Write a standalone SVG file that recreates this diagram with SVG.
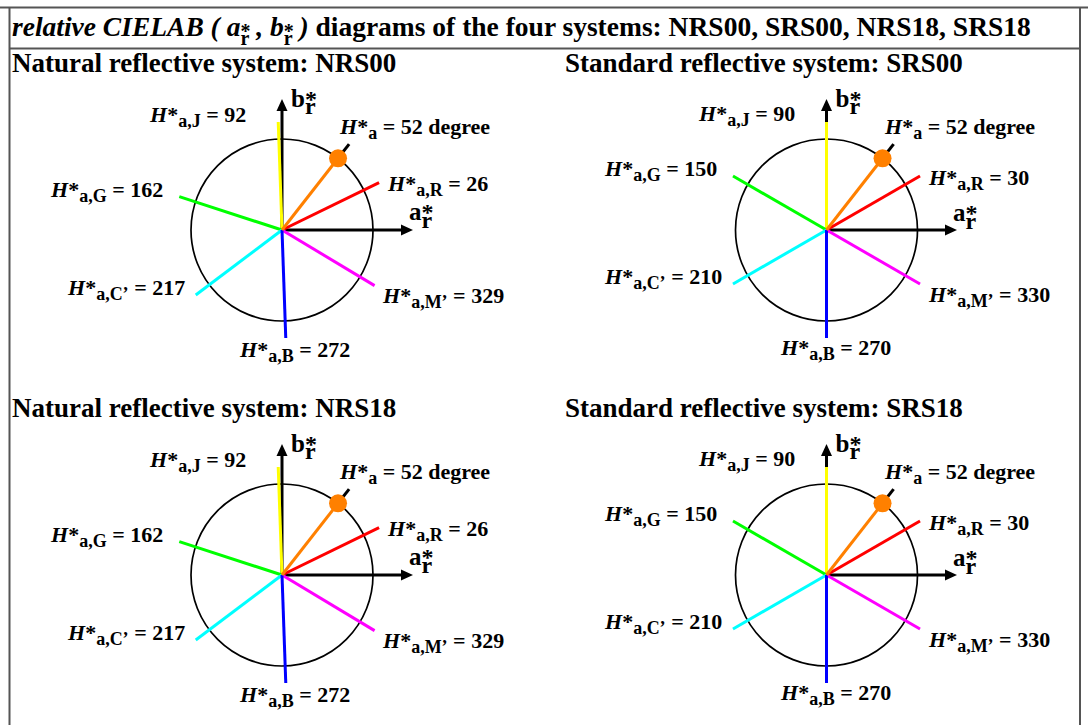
<svg xmlns="http://www.w3.org/2000/svg" width="1088" height="725" viewBox="0 0 1088 725">
<defs>
<style>
.t{font-family:"Liberation Serif","Times New Roman",serif;font-weight:bold;fill:#000}
.ttl{font-size:27.5px}
.sub{font-size:27px}
.lab{font-size:22px}
.s{font-size:18px}
.ax{font-size:25px}
.axs{font-size:24px}
.ts{font-size:20px}
.i{font-style:italic}
.frame{stroke:#555;stroke-width:2;fill:none}
.circ{fill:none;stroke:#000;stroke-width:1.7}
.axis{stroke:#000;stroke-width:3}
.h{stroke-width:3;fill:none}
</style>
</defs>
<rect width="1088" height="725" fill="#fff"/>
<g id="frame">
<line class="frame" x1="0" y1="7.5" x2="1088" y2="7.5"/>
<line class="frame" x1="9.5" y1="7.5" x2="9.5" y2="725"/>
<line class="frame" x1="1080" y1="7.5" x2="1080" y2="725"/>
<line class="frame" x1="9.5" y1="48.5" x2="1080" y2="48.5" stroke-width="1.5"/>
</g>
<g id="title">
<text class="t ttl" x="12" y="36"><tspan class="i">relative CIELAB ( a</tspan><tspan class="ts" dy="2">*</tspan><tspan class="ts" dx="-10" dy="7">r</tspan><tspan class="i" dy="-9"> , b</tspan><tspan class="ts" dy="2">*</tspan><tspan class="ts" dx="-10" dy="7">r</tspan><tspan class="i" dy="-9"> )</tspan> diagrams of the four systems: NRS00, SRS00, NRS18, SRS18</text>
</g>

<!-- NRS00 -->
<g id="nrs00">
<text class="t sub" x="12" y="72">Natural reflective system: NRS00</text>
<circle class="circ" cx="282" cy="230" r="91"/>
<line class="axis" x1="282" y1="230" x2="282" y2="110"/>
<polygon points="282,99 276.5,111 287.5,111" fill="#000"/>
<line class="axis" x1="282" y1="230" x2="401" y2="230"/>
<polygon points="413,230 401,224.5 401,235.5" fill="#000"/>
<line class="h" stroke="#ffff00" x1="282" y1="230" x2="278.23" y2="122.06"/>
<line class="h" stroke="#00ff00" x1="282" y1="230" x2="179.28" y2="196.63"/>
<line class="h" stroke="#ff0000" x1="282" y1="230" x2="379.07" y2="182.65"/>
<line class="h" stroke="#00ffff" x1="282" y1="230" x2="195.75" y2="295"/>
<line class="h" stroke="#ff00ff" x1="282" y1="230" x2="374.57" y2="285.62"/>
<line class="h" stroke="#0000ff" x1="282" y1="230" x2="285.77" y2="337.94"/>
<line class="h" stroke="#000" x1="338.03" y1="158.29" x2="349.11" y2="144.11"/>
<line class="h" stroke="#ff8000" x1="282" y1="230" x2="338.03" y2="158.29"/>
<circle cx="338.03" cy="158.29" r="9" fill="#ff8000"/>
<text class="t ax" x="291" y="107">b<tspan class="axs">*</tspan><tspan class="axs" dx="-12" dy="7">r</tspan></text>
<text class="t ax" x="409" y="220">a<tspan class="axs">*</tspan><tspan class="axs" dx="-12" dy="8">r</tspan></text>
<text class="t lab" x="150" y="122"><tspan class="i">H</tspan>*<tspan class="s" dy="5">a,J</tspan><tspan dy="-5"> = 92</tspan></text>
<text class="t lab" x="340" y="134"><tspan class="i">H</tspan>*<tspan class="s" dy="5">a</tspan><tspan dy="-5"> = 52 degree</tspan></text>
<text class="t lab" x="388" y="191"><tspan class="i">H</tspan>*<tspan class="s" dy="5">a,R</tspan><tspan dy="-5"> = 26</tspan></text>
<text class="t lab" x="51" y="197"><tspan class="i">H</tspan>*<tspan class="s" dy="5">a,G</tspan><tspan dy="-5"> = 162</tspan></text>
<text class="t lab" x="68" y="295"><tspan class="i">H</tspan>*<tspan class="s" dy="5">a,C’</tspan><tspan dy="-5"> = 217</tspan></text>
<text class="t lab" x="383" y="303"><tspan class="i">H</tspan>*<tspan class="s" dy="5">a,M’</tspan><tspan dy="-5"> = 329</tspan></text>
<text class="t lab" x="240" y="357"><tspan class="i">H</tspan>*<tspan class="s" dy="5">a,B</tspan><tspan dy="-5"> = 272</tspan></text>
</g>

<!-- SRS00 -->
<g id="srs00">
<text class="t sub" x="565" y="72">Standard reflective system: SRS00</text>
<circle class="circ" cx="826.5" cy="230" r="91"/>
<line class="axis" x1="826.5" y1="230" x2="826.5" y2="110"/>
<polygon points="826.5,99 821,111 832,111" fill="#000"/>
<line class="axis" x1="826.5" y1="230" x2="945" y2="230"/>
<polygon points="957,230 945,224.5 945,235.5" fill="#000"/>
<line class="h" stroke="#ffff00" x1="826.5" y1="230" x2="826.5" y2="122"/>
<line class="h" stroke="#00ff00" x1="826.5" y1="230" x2="732.97" y2="176"/>
<line class="h" stroke="#ff0000" x1="826.5" y1="230" x2="920.03" y2="176"/>
<line class="h" stroke="#00ffff" x1="826.5" y1="230" x2="732.97" y2="284"/>
<line class="h" stroke="#ff00ff" x1="826.5" y1="230" x2="920.03" y2="284"/>
<line class="h" stroke="#0000ff" x1="826.5" y1="230" x2="826.5" y2="338"/>
<line class="h" stroke="#000" x1="882.53" y1="158.29" x2="893.61" y2="144.11"/>
<line class="h" stroke="#ff8000" x1="826.5" y1="230" x2="882.53" y2="158.29"/>
<circle cx="882.53" cy="158.29" r="9" fill="#ff8000"/>
<text class="t ax" x="835.5" y="107">b<tspan class="axs">*</tspan><tspan class="axs" dx="-12" dy="7">r</tspan></text>
<text class="t ax" x="953" y="221">a<tspan class="axs">*</tspan><tspan class="axs" dx="-12" dy="8">r</tspan></text>
<text class="t lab" x="699" y="121"><tspan class="i">H</tspan>*<tspan class="s" dy="5">a,J</tspan><tspan dy="-5"> = 90</tspan></text>
<text class="t lab" x="885" y="134"><tspan class="i">H</tspan>*<tspan class="s" dy="5">a</tspan><tspan dy="-5"> = 52 degree</tspan></text>
<text class="t lab" x="605" y="176"><tspan class="i">H</tspan>*<tspan class="s" dy="5">a,G</tspan><tspan dy="-5"> = 150</tspan></text>
<text class="t lab" x="929" y="185"><tspan class="i">H</tspan>*<tspan class="s" dy="5">a,R</tspan><tspan dy="-5"> = 30</tspan></text>
<text class="t lab" x="605" y="284"><tspan class="i">H</tspan>*<tspan class="s" dy="5">a,C’</tspan><tspan dy="-5"> = 210</tspan></text>
<text class="t lab" x="929" y="302"><tspan class="i">H</tspan>*<tspan class="s" dy="5">a,M’</tspan><tspan dy="-5"> = 330</tspan></text>
<text class="t lab" x="781" y="355"><tspan class="i">H</tspan>*<tspan class="s" dy="5">a,B</tspan><tspan dy="-5"> = 270</tspan></text>
</g>

<!-- NRS18 -->
<g id="nrs18" transform="translate(0,345)">
<text class="t sub" x="12" y="72">Natural reflective system: NRS18</text>
<circle class="circ" cx="282" cy="230" r="91"/>
<line class="axis" x1="282" y1="230" x2="282" y2="110"/>
<polygon points="282,99 276.5,111 287.5,111" fill="#000"/>
<line class="axis" x1="282" y1="230" x2="401" y2="230"/>
<polygon points="413,230 401,224.5 401,235.5" fill="#000"/>
<line class="h" stroke="#ffff00" x1="282" y1="230" x2="278.23" y2="122.06"/>
<line class="h" stroke="#00ff00" x1="282" y1="230" x2="179.28" y2="196.63"/>
<line class="h" stroke="#ff0000" x1="282" y1="230" x2="379.07" y2="182.65"/>
<line class="h" stroke="#00ffff" x1="282" y1="230" x2="195.75" y2="295"/>
<line class="h" stroke="#ff00ff" x1="282" y1="230" x2="374.57" y2="285.62"/>
<line class="h" stroke="#0000ff" x1="282" y1="230" x2="285.77" y2="337.94"/>
<line class="h" stroke="#000" x1="338.03" y1="158.29" x2="349.11" y2="144.11"/>
<line class="h" stroke="#ff8000" x1="282" y1="230" x2="338.03" y2="158.29"/>
<circle cx="338.03" cy="158.29" r="9" fill="#ff8000"/>
<text class="t ax" x="291" y="107">b<tspan class="axs">*</tspan><tspan class="axs" dx="-12" dy="7">r</tspan></text>
<text class="t ax" x="409" y="220">a<tspan class="axs">*</tspan><tspan class="axs" dx="-12" dy="8">r</tspan></text>
<text class="t lab" x="150" y="122"><tspan class="i">H</tspan>*<tspan class="s" dy="5">a,J</tspan><tspan dy="-5"> = 92</tspan></text>
<text class="t lab" x="340" y="134"><tspan class="i">H</tspan>*<tspan class="s" dy="5">a</tspan><tspan dy="-5"> = 52 degree</tspan></text>
<text class="t lab" x="388" y="191"><tspan class="i">H</tspan>*<tspan class="s" dy="5">a,R</tspan><tspan dy="-5"> = 26</tspan></text>
<text class="t lab" x="51" y="197"><tspan class="i">H</tspan>*<tspan class="s" dy="5">a,G</tspan><tspan dy="-5"> = 162</tspan></text>
<text class="t lab" x="68" y="295"><tspan class="i">H</tspan>*<tspan class="s" dy="5">a,C’</tspan><tspan dy="-5"> = 217</tspan></text>
<text class="t lab" x="383" y="303"><tspan class="i">H</tspan>*<tspan class="s" dy="5">a,M’</tspan><tspan dy="-5"> = 329</tspan></text>
<text class="t lab" x="240" y="357"><tspan class="i">H</tspan>*<tspan class="s" dy="5">a,B</tspan><tspan dy="-5"> = 272</tspan></text>
</g>

<!-- SRS18 -->
<g id="srs18" transform="translate(0,345)">
<text class="t sub" x="565" y="72">Standard reflective system: SRS18</text>
<circle class="circ" cx="826.5" cy="230" r="91"/>
<line class="axis" x1="826.5" y1="230" x2="826.5" y2="110"/>
<polygon points="826.5,99 821,111 832,111" fill="#000"/>
<line class="axis" x1="826.5" y1="230" x2="945" y2="230"/>
<polygon points="957,230 945,224.5 945,235.5" fill="#000"/>
<line class="h" stroke="#ffff00" x1="826.5" y1="230" x2="826.5" y2="122"/>
<line class="h" stroke="#00ff00" x1="826.5" y1="230" x2="732.97" y2="176"/>
<line class="h" stroke="#ff0000" x1="826.5" y1="230" x2="920.03" y2="176"/>
<line class="h" stroke="#00ffff" x1="826.5" y1="230" x2="732.97" y2="284"/>
<line class="h" stroke="#ff00ff" x1="826.5" y1="230" x2="920.03" y2="284"/>
<line class="h" stroke="#0000ff" x1="826.5" y1="230" x2="826.5" y2="338"/>
<line class="h" stroke="#000" x1="882.53" y1="158.29" x2="893.61" y2="144.11"/>
<line class="h" stroke="#ff8000" x1="826.5" y1="230" x2="882.53" y2="158.29"/>
<circle cx="882.53" cy="158.29" r="9" fill="#ff8000"/>
<text class="t ax" x="835.5" y="107">b<tspan class="axs">*</tspan><tspan class="axs" dx="-12" dy="7">r</tspan></text>
<text class="t ax" x="953" y="221">a<tspan class="axs">*</tspan><tspan class="axs" dx="-12" dy="8">r</tspan></text>
<text class="t lab" x="699" y="121"><tspan class="i">H</tspan>*<tspan class="s" dy="5">a,J</tspan><tspan dy="-5"> = 90</tspan></text>
<text class="t lab" x="885" y="134"><tspan class="i">H</tspan>*<tspan class="s" dy="5">a</tspan><tspan dy="-5"> = 52 degree</tspan></text>
<text class="t lab" x="605" y="176"><tspan class="i">H</tspan>*<tspan class="s" dy="5">a,G</tspan><tspan dy="-5"> = 150</tspan></text>
<text class="t lab" x="929" y="185"><tspan class="i">H</tspan>*<tspan class="s" dy="5">a,R</tspan><tspan dy="-5"> = 30</tspan></text>
<text class="t lab" x="605" y="284"><tspan class="i">H</tspan>*<tspan class="s" dy="5">a,C’</tspan><tspan dy="-5"> = 210</tspan></text>
<text class="t lab" x="929" y="302"><tspan class="i">H</tspan>*<tspan class="s" dy="5">a,M’</tspan><tspan dy="-5"> = 330</tspan></text>
<text class="t lab" x="781" y="355"><tspan class="i">H</tspan>*<tspan class="s" dy="5">a,B</tspan><tspan dy="-5"> = 270</tspan></text>
</g>
</svg>
